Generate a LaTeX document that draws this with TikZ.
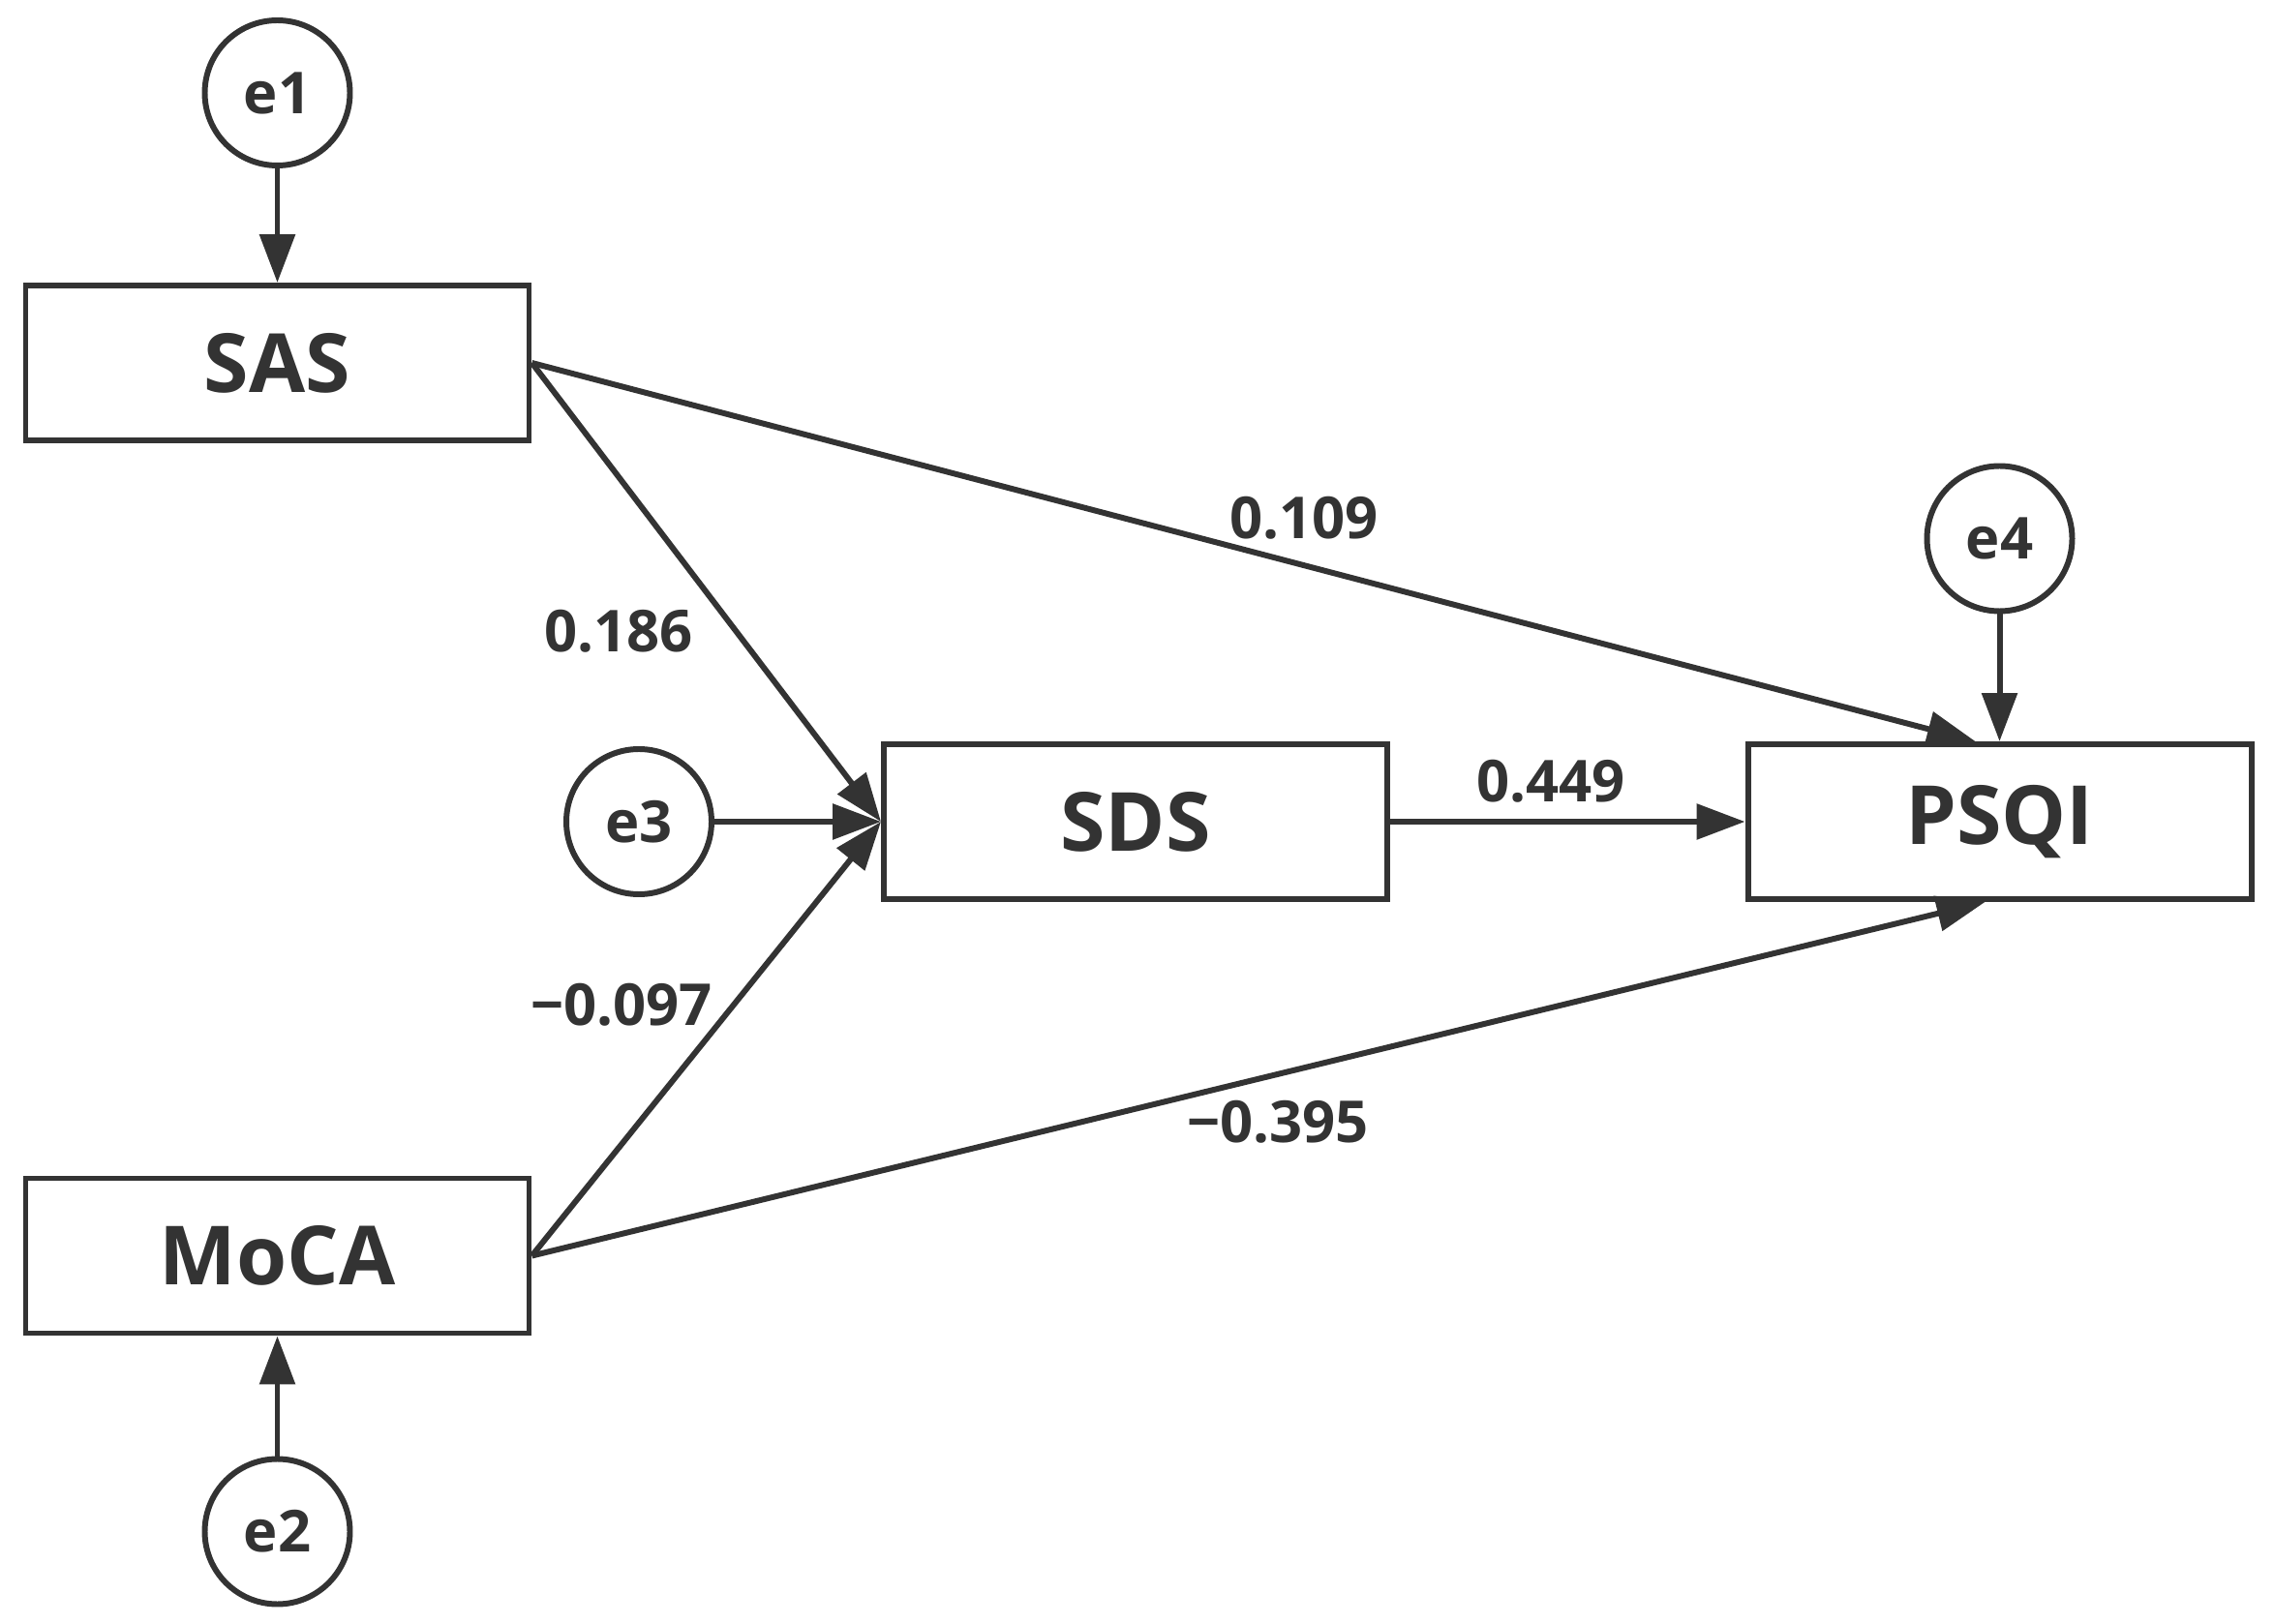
\documentclass[tikz,border=0pt]{standalone}
\usepackage{fontspec}
\setmainfont{Open Sans}
\usetikzlibrary{arrows.meta}
\definecolor{ink}{HTML}{333333}
\begin{document}
\begin{tikzpicture}
\tikzset{
  var/.style={draw=ink, line width=1.7pt, minimum width=5.2cm, minimum height=1.6cm, font=\fontsize{24}{28}\selectfont\bfseries, text=ink},
  err/.style={draw=ink, circle, line width=1.7pt, minimum size=1.5cm, inner sep=0pt, font=\fontsize{17}{20}\selectfont\bfseries, text=ink},
  path/.style={draw=ink, line width=1.7pt, -{Triangle[length=5mm,width=3.6mm]}},
  coef/.style={font=\fontsize{17}{20}\selectfont\bfseries, text=ink}
}
\useasboundingbox (0,-16.78) rectangle (23.49,0);
\node [var] (sas) at (2.865,-3.75) {SAS};
\node [var] (moca) at (2.865,-12.975) {MoCA};
\node [var] (sds) at (11.73,-8.49) {SDS};
\node [var] (psqi) at (20.655,-8.49) {PSQI};
\node [err] (e1) at (2.865,-0.96) {e1};
\node [err] (e2) at (2.865,-15.825) {e2};
\node [err] (e3) at (6.6,-8.49) {e3};
\node [err] (e4) at (20.655,-5.565) {e4};
\draw [path] (e1) -- (sas);
\draw [path] (e2) -- (moca);
\draw [path] (e3) -- (sds);
\draw [path] (e4) -- (psqi);
\draw [path] (sas.east) -- ([xshift=-2.5mm]psqi.north);
\draw [path] (sas.east) -- (sds.west);
\draw [path] (moca.east) -- (sds.west);
\draw [path] (moca.east) -- ([xshift=-1.5mm]psqi.south);
\draw [path] (sds) -- (psqi);
\node [coef] (c1) at (13.47,-5.355) {0.109};
\node [coef] (c2) at (6.39,-6.525) {0.186};
\node [coef] (c3) at (6.42,-10.38) {−0.097};
\node [coef] (c4) at (13.2,-11.595) {−0.395};
\node [coef] (c5) at (16.02,-8.07) {0.449};
\end{tikzpicture}
\end{document}
